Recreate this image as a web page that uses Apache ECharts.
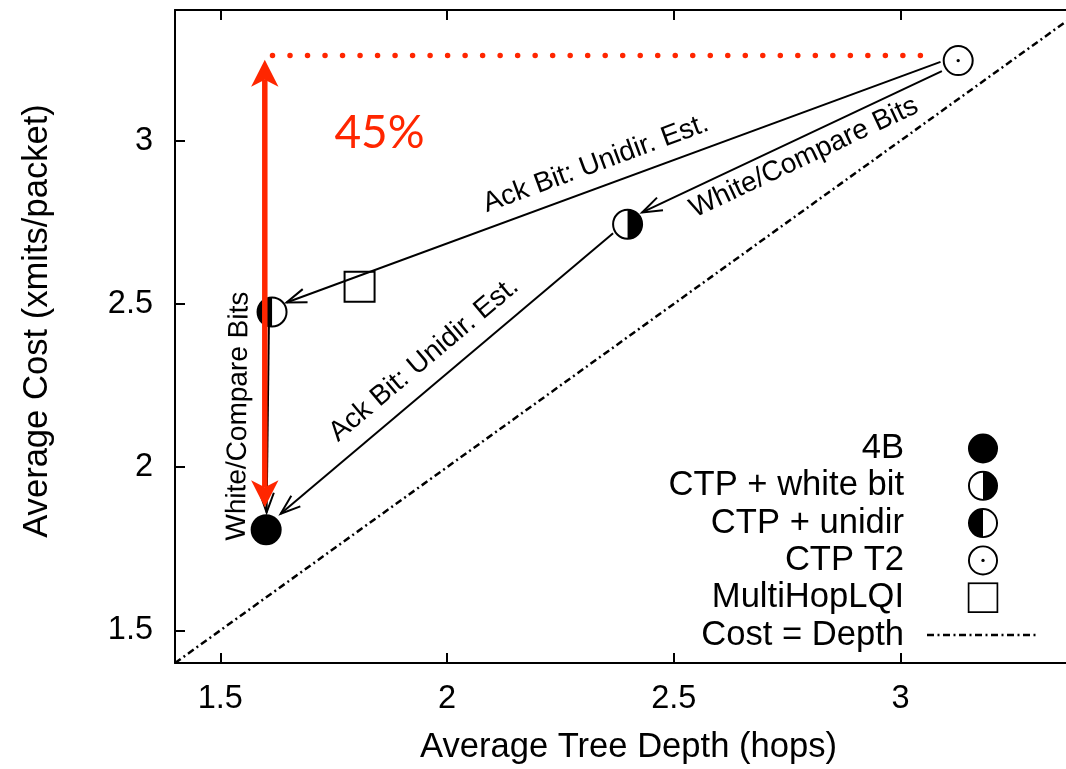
<!DOCTYPE html>
<html><head><meta charset="utf-8">
<script src="https://cdn.jsdelivr.net/npm/echarts@6/dist/echarts.min.js"></script>
<style>html,body{margin:0;padding:0;background:#fff}#c{width:1066px;height:769px}</style>
</head><body><div id="c"></div>
<script>
// ---- data ----
const xTicks = [1.5, 2, 2.5, 3];
const yTicks = [1.5, 2, 2.5, 3];
const seriesNames = ['4B', 'CTP + white bit', 'CTP + unidir', 'CTP T2', 'MultiHopLQI'];
const markerKinds = ['full', 'rightHalf', 'leftHalf', 'dot', 'square'];
const depth = [1.601, 2.398, 1.614, 3.127, 1.807];
const cost = [1.808, 2.744, 2.475, 3.245, 2.552];
const diagName = 'Cost = Depth';
const diagX = [1.4, 3.4];
const diagY = [1.4, 3.4];
const arrowFromX = [3.088, 3.091, 2.366, 1.607];
const arrowFromY = [3.241, 3.213, 2.716, 2.429];
const arrowToX = [1.646, 2.430, 1.633, 1.602];
const arrowToY = [2.504, 2.780, 1.857, 1.861];
const noteText = ['Ack Bit: Unidir. Est.', 'White/Compare Bits', 'Ack Bit: Unidir. Est.', 'White/Compare Bits'];
const noteX = [2.328, 2.787, 1.949, 1.540];
const noteY = [2.929, 2.948, 2.329, 2.156];
const gainText = ['45%'];
const gainX = [1.851];
const gainY = [3.024];
const spanX = [1.598];
const spanTop = [3.2475];
const spanBottom = [1.877];
const guideX = [1.615, 3.082];
const guideY = [3.261, 3.261];

const RED = '#ff2600';
const FONT = 'Liberation Sans';

function svgIcon(inner, w, h) {
  w = w || 32; h = h || 32;
  return 'image://data:image/svg+xml;charset=utf-8,' + encodeURIComponent(
    '<svg xmlns="http://www.w3.org/2000/svg" width="' + w + '" height="' + h + '" viewBox="0 0 ' + w + ' ' + h + '">' + inner + '</svg>');
}
const iconFor = {
  full: svgIcon('<circle cx="16" cy="16" r="15.5" fill="#000"/>'),
  rightHalf: svgIcon('<circle cx="16" cy="16" r="14.5" fill="#fff" stroke="#000" stroke-width="2"/><path d="M16 1.5 A14.5 14.5 0 0 1 16 30.5 Z" fill="#000"/>'),
  leftHalf: svgIcon('<circle cx="16" cy="16" r="14.5" fill="#fff" stroke="#000" stroke-width="2"/><path d="M16 1.5 A14.5 14.5 0 0 0 16 30.5 Z" fill="#000"/>'),
  dot: svgIcon('<circle cx="16" cy="16" r="14.5" fill="#fff" stroke="#000" stroke-width="2"/><circle cx="16" cy="16" r="1.7" fill="#000"/>'),
  square: svgIcon('<rect x="1" y="1" width="30" height="30" fill="none" stroke="#000" stroke-width="2"/>'),
  dashdot: svgIcon('<line x1="0" y1="15.5" x2="112" y2="15.5" stroke="#000" stroke-width="2.5" stroke-dasharray="7 3.5 2 3.5"/>', 112, 31)
};

function markerRender(kind) {
  return function (params, api) {
    const c = api.coord([api.value(0), api.value(1)]);
    const r = 14.5;
    const ch = [];
    if (kind === 'square') {
      ch.push({type: 'rect', shape: {x: c[0] - 15, y: c[1] - 15, width: 30, height: 30},
        style: {fill: 'none', stroke: '#000', lineWidth: 2}});
    } else if (kind === 'full') {
      ch.push({type: 'circle', shape: {cx: c[0], cy: c[1], r: r + 1}, style: {fill: '#000'}});
    } else {
      ch.push({type: 'circle', shape: {cx: c[0], cy: c[1], r: r}, style: {fill: '#fff'}});
      if (kind === 'rightHalf') {
        ch.push({type: 'sector', shape: {cx: c[0], cy: c[1], r0: 0, r: r, startAngle: -Math.PI / 2, endAngle: Math.PI / 2}, style: {fill: '#000'}});
      } else if (kind === 'leftHalf') {
        ch.push({type: 'sector', shape: {cx: c[0], cy: c[1], r0: 0, r: r, startAngle: Math.PI / 2, endAngle: Math.PI * 1.5}, style: {fill: '#000'}});
      } else if (kind === 'dot') {
        ch.push({type: 'circle', shape: {cx: c[0], cy: c[1], r: 1.7}, style: {fill: '#000'}});
      }
      ch.push({type: 'circle', shape: {cx: c[0], cy: c[1], r: r}, style: {fill: 'none', stroke: '#000', lineWidth: 2}});
    }
    return {type: 'group', children: ch};
  };
}

function textAngle(dx, dy) {
  let a = Math.atan2(-dy, dx);
  if (a > Math.PI / 2) a -= Math.PI;
  if (a <= -Math.PI / 2) a += Math.PI;
  return a;
}

const series = [];

series.push({
  name: diagName, type: 'line', z: 1, symbol: 'none', silent: true,
  itemStyle: {color: '#000'},
  data: diagX.map((x, i) => [x, diagY[i]]),
  lineStyle: {color: '#000', width: 2.5, type: [7, 3.5, 2, 3.5]}
});

series.push({
  type: 'custom', z: 2, silent: true,
  encode: {x: [0, 2], y: [1, 3]},
  data: arrowFromX.map((x, i) => [x, arrowFromY[i], arrowToX[i], arrowToY[i]]),
  renderItem: function (params, api) {
    const a = api.coord([api.value(0), api.value(1)]);
    const b = api.coord([api.value(2), api.value(3)]);
    const ang = Math.atan2(b[1] - a[1], b[0] - a[0]);
    const L = 21, h = 0.34;
    const p1 = [b[0] - L * Math.cos(ang - h), b[1] - L * Math.sin(ang - h)];
    const p2 = [b[0] - L * Math.cos(ang + h), b[1] - L * Math.sin(ang + h)];
    return {type: 'group', children: [
      {type: 'line', shape: {x1: a[0], y1: a[1], x2: b[0], y2: b[1]}, style: {stroke: '#000', lineWidth: 2}},
      {type: 'polyline', shape: {points: [p1, b, p2]}, style: {stroke: '#000', lineWidth: 2, fill: 'none'}}
    ]};
  }
});

seriesNames.forEach(function (name, i) {
  series.push({
    name: name, type: 'custom', z: 3, silent: true,
    data: [[depth[i], cost[i]]],
    renderItem: markerRender(markerKinds[i])
  });
});

// red dotted guide
series.push({
  type: 'custom', z: 4, silent: true,
  data: [[guideX[0], guideY[0], guideX[1], guideY[1]]],
  renderItem: function (params, api) {
    const a = api.coord([api.value(0), api.value(1)]);
    const b = api.coord([api.value(2), api.value(3)]);
    return {type: 'line', shape: {x1: a[0], y1: a[1], x2: b[0], y2: b[1]},
      style: {stroke: RED, lineWidth: 5.5, lineDash: [0.01, 17.5], lineCap: 'round'}};
  }
});

// red double arrow
series.push({
  type: 'custom', z: 5, silent: true,
  data: spanX.map((x, i) => [x, spanTop[i], spanBottom[i]]),
  renderItem: function (params, api) {
    const t = api.coord([api.value(0), api.value(1)]);
    const b = api.coord([api.value(0), api.value(2)]);
    const hl = 27, hw = 13.7, notch = 20;
    return {type: 'group', children: [
      {type: 'line', shape: {x1: t[0], y1: t[1] + notch, x2: b[0], y2: b[1] - notch}, style: {stroke: RED, lineWidth: 5.5}},
      {type: 'polygon', shape: {points: [[t[0], t[1]], [t[0] + hw, t[1] + hl], [t[0], t[1] + notch], [t[0] - hw, t[1] + hl]]}, style: {fill: RED}},
      {type: 'polygon', shape: {points: [[b[0], b[1]], [b[0] + hw, b[1] - hl], [b[0], b[1] - notch], [b[0] - hw, b[1] - hl]]}, style: {fill: RED}}
    ]};
  }
});

// annotation labels along arrows
series.push({
  type: 'custom', z: 6, silent: true,
  data: noteX.map((x, i) => [x, noteY[i], i]),
  renderItem: function (params, api) {
    const i = api.value(2);
    const p = api.coord([api.value(0), api.value(1)]);
    const a = api.coord([arrowFromX[i], arrowFromY[i]]);
    const b = api.coord([arrowToX[i], arrowToY[i]]);
    return {type: 'text', x: p[0], y: p[1], rotation: textAngle(b[0] - a[0], b[1] - a[1]),
      style: {text: noteText[i], fontSize: 28, fontFamily: FONT, fill: '#000', align: 'center', verticalAlign: 'middle'}};
  }
});

series.push({
  type: 'custom', z: 6, silent: true,
  data: gainX.map((x, i) => [x, gainY[i], i]),
  renderItem: function (params, api) {
    const p = api.coord([api.value(0), api.value(1)]);
    return {type: 'text', x: p[0], y: p[1],
      style: {text: gainText[api.value(2)], fontSize: 46, fontFamily: 'Lato', fill: RED, align: 'center', verticalAlign: 'middle'}};
  }
});

const axisLine = {show: true, onZero: false, lineStyle: {color: '#000', width: 2}};
const axisTick = {show: true, inside: true, length: 10, lineStyle: {color: '#000', width: 2}};

const option = {
  animation: false,
  backgroundColor: '#fff',
  grid: {left: 175, top: 10, width: 907, height: 653, show: false, containLabel: false, outerBoundsMode: 'none'},
  xAxis: [
    {type: 'value', min: 1.4, max: 3.4, position: 'bottom',
      name: 'Average Tree Depth (hops)', nameLocation: 'middle', nameGap: 67,
      nameTextStyle: {fontSize: 34.6, fontFamily: FONT, color: '#000'},
      axisLine: axisLine, axisTick: Object.assign({customValues: xTicks}, axisTick),
      axisLabel: {customValues: xTicks, fontSize: 32.5, fontFamily: FONT, color: '#000', margin: 20},
      splitLine: {show: false}},
    {type: 'value', min: 1.4, max: 3.4, position: 'top',
      axisLine: axisLine, axisTick: Object.assign({customValues: xTicks}, axisTick),
      axisLabel: {show: false}, splitLine: {show: false}}
  ],
  yAxis: [
    {type: 'value', min: 1.4, max: 3.4, position: 'left',
      name: 'Average Cost (xmits/packet)', nameLocation: 'middle', nameGap: 120,
      nameTextStyle: {fontSize: 34.6, fontFamily: FONT, color: '#000', padding: [0, 0, 0, 31]},
      axisLine: axisLine, axisTick: Object.assign({customValues: yTicks}, axisTick),
      axisLabel: {customValues: yTicks, fontSize: 32.5, fontFamily: FONT, color: '#000', margin: 22},
      splitLine: {show: false}}
  ],
  legend: {
    orient: 'vertical', align: 'right', right: 27, top: 431, padding: 0,
    itemWidth: 112, itemHeight: 31, itemGap: 2.3, selectedMode: false,
    textStyle: {fontSize: 34.6, fontFamily: FONT, color: '#000', padding: [0, 18, 0, 0]},
    data: seriesNames.map((n, i) => ({name: n, icon: iconFor[markerKinds[i]]}))
      .concat([{name: diagName, icon: iconFor.dashdot}])
  },
  series: series
};

const chart = echarts.init(document.getElementById('c'), null, {renderer: 'canvas'});
chart.setOption(option);
</script>
</body></html>
